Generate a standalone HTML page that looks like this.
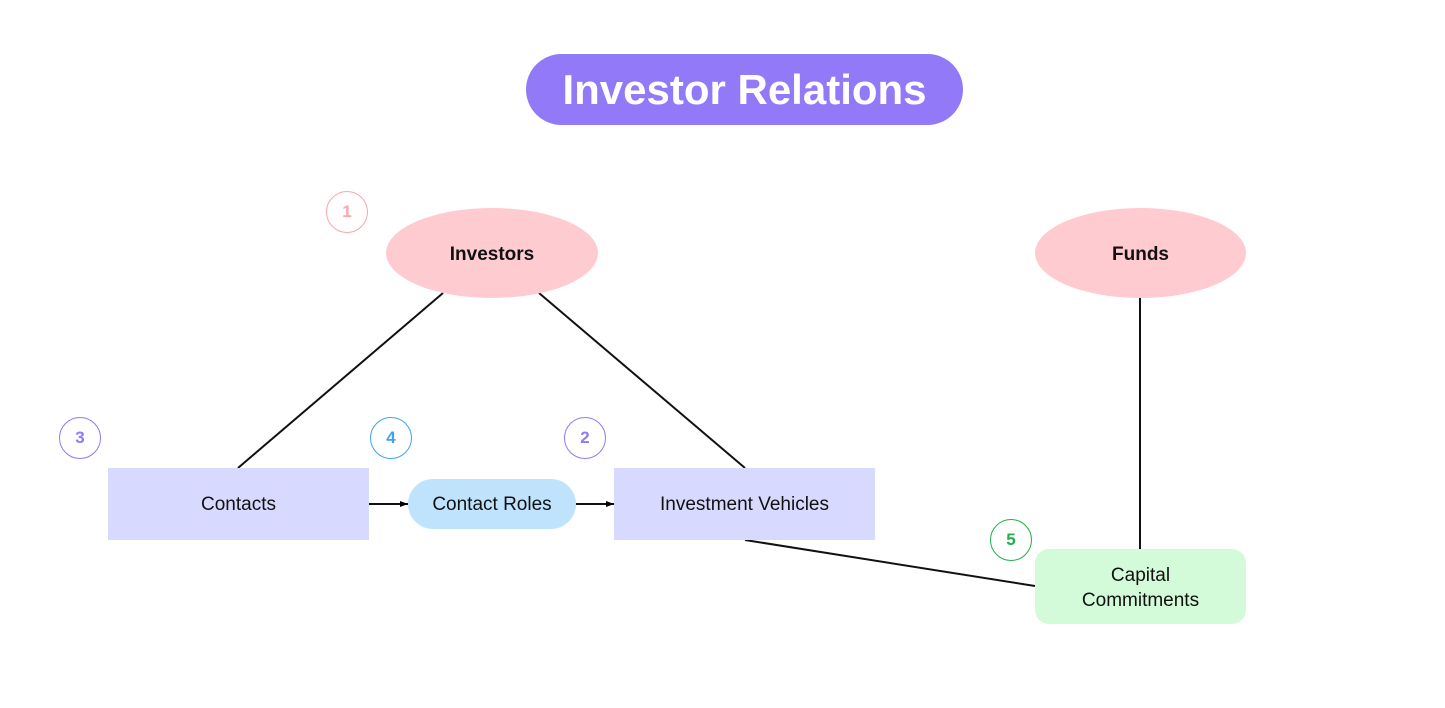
<!DOCTYPE html>
<html><head><style>
body{margin:0;width:1445px;height:708px;background:#fff;position:relative;overflow:hidden;font-family:"Liberation Sans",sans-serif}
.a{position:absolute;display:flex;align-items:center;justify-content:center;text-align:center;box-sizing:border-box;color:#111}
.c{width:42px;height:42px;border-radius:50%;border:1.3px solid;font-weight:bold;font-size:17px;background:#fff}
</style></head><body>
<svg width="1445" height="708" style="position:absolute;left:0;top:0">
<defs><marker id="m" markerUnits="userSpaceOnUse" markerWidth="9" markerHeight="8" refX="8" refY="4" orient="auto"><path d="M0,1 L8,4 L0,7z" fill="#000"/></marker></defs>
<g stroke="#111" stroke-width="2" fill="none">
<line x1="443" y1="293" x2="238" y2="468"/>
<line x1="539" y1="293" x2="745" y2="468"/>
<line x1="1140" y1="298" x2="1140" y2="549"/>
<line x1="745" y1="540" x2="1035" y2="586"/>
<line x1="369" y1="504" x2="408" y2="504" marker-end="url(#m)"/>
<line x1="576" y1="504" x2="614" y2="504" marker-end="url(#m)"/>
</g></svg>
<div class="a" style="left:526px;top:54px;width:437px;height:71px;border-radius:36px;background:#9179f8;color:#fff;font-weight:bold;font-size:42px">Investor Relations</div>
<div class="a" style="left:386px;top:208px;width:212px;height:90px;border-radius:50%;background:#fecbd1;font-weight:bold;font-size:19px;padding-top:4px">Investors</div>
<div class="a" style="left:1035px;top:208px;width:211px;height:90px;border-radius:50%;background:#fecbd1;font-weight:bold;font-size:19px;padding-top:4px">Funds</div>
<div class="a" style="left:108px;top:468px;width:261px;height:72px;background:#d8d9fe;font-size:19px;padding-top:2px">Contacts</div>
<div class="a" style="left:408px;top:479px;width:168px;height:50px;border-radius:25px;background:#bfe3fd;font-size:19px;padding-top:2px">Contact Roles</div>
<div class="a" style="left:614px;top:468px;width:261px;height:72px;background:#d8d9fe;font-size:19px;padding-top:2px">Investment Vehicles</div>
<div class="a" style="left:1035px;top:549px;width:211px;height:75px;border-radius:14px;background:#d3fbd9;font-size:19px;line-height:25px;padding-top:2px">Capital<br>Commitments</div>
<div class="a c" style="left:326px;top:191px;border-color:#fca5ad;color:#fca5ad">1</div>
<div class="a c" style="left:564px;top:417px;border-color:#9179f8;color:#9179f8">2</div>
<div class="a c" style="left:59px;top:417px;border-color:#9179f8;color:#9179f8">3</div>
<div class="a c" style="left:370px;top:417px;border-color:#3fa1f5;color:#3fa1f5">4</div>
<div class="a c" style="left:990px;top:519px;border-color:#22b04b;color:#22b04b">5</div>
</body></html>
